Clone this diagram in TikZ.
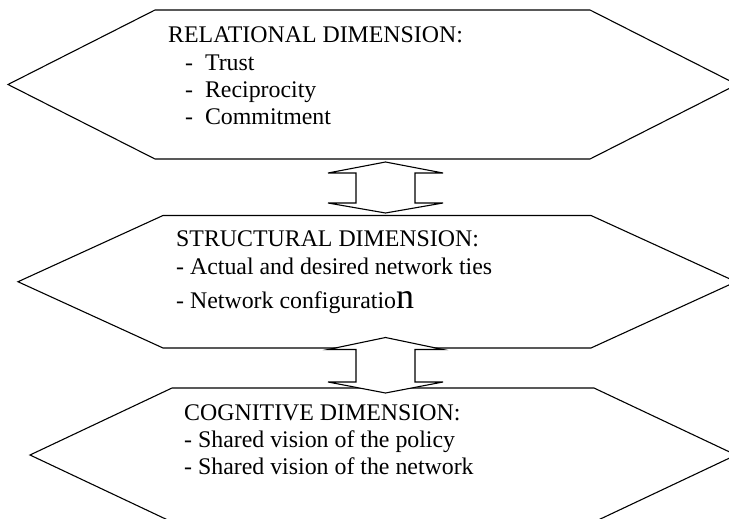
\documentclass[tikz,border=0pt]{standalone}
\usepackage{fontspec}
\setmainfont{Liberation Serif}
\usetikzlibrary{positioning, calc}

\newcommand{\dimfont}{\fontsize{23.85bp}{27.4bp}\selectfont}
\newcommand{\bign}{{\fontsize{36bp}{36bp}\selectfont n}}

\begin{document}
\begin{tikzpicture}[x=1bp, y=-1bp,
    every node/.style={inner sep=0pt, anchor=base west, font=\dimfont},
    entry/.style={anchor=base west},
    hexa/.style={draw, line width=1.1pt, line join=miter},
    dblarrow/.style={draw, fill=white, line width=1.1pt, line join=miter}]

  \useasboundingbox (0,0) rectangle (729,519);

  % Hexagons
  \coordinate (rel-w) at (8,84.5);
  \coordinate (rel-e) at (737,84.5);
  \draw[hexa] (rel-w) -- (155,10) -- (590,10) -- (rel-e) -- (590,159) -- (155,159) -- cycle;

  \coordinate (str-w) at (18,281.75);
  \coordinate (str-e) at (736,281.75);
  \draw[hexa] (str-w) -- (163,215.5) -- (591,215.5) -- (str-e) -- (591,348) -- (163,348) -- cycle;

  \coordinate (cog-w) at (30,455);
  \coordinate (cog-e) at (736,455);
  \draw[hexa] (cog-w) -- (172,388) -- (594,388) -- (cog-e) -- (594,522) -- (172,522) -- cycle;

  % Double arrows between the dimensions
  \coordinate (up1) at (385.5,162);
  \coordinate (dn1) at (385.5,213);
  \draw[dblarrow] (up1) -- ++(57.5,11) -- ++(-28,0) -- ++(0,30) -- ++(28,0) -- (dn1)
    -- ++(-57.5,-10) -- ++(28,0) -- ++(0,-30) -- ++(-28,0) -- cycle;

  \coordinate (up2) at (385.5,337.5);
  \coordinate (dn2) at (385.5,393);
  \draw[dblarrow] (up2) -- ++(57.5,12) -- ++(-28,0) -- ++(0,32.5) -- ++(28,0) -- (dn2)
    -- ++(-57.5,-11) -- ++(28,0) -- ++(0,-32.5) -- ++(-28,0) -- cycle;

  % Relational
  \node (relt) at (168,43) {RELATIONAL DIMENSION:};
  \node (rel1) [below=27.3bp of relt.base west, entry, xshift=17bp] {-\hspace{0.5em}Trust};
  \node (rel2) [below=27.3bp of rel1.base west, entry] {-\hspace{0.5em}Reciprocity};
  \node (rel3) [below=27.3bp of rel2.base west, entry] {-\hspace{0.5em}Commitment};

  % Structural
  \node (strt) at (176,247) {STRUCTURAL DIMENSION:};
  \node (str1) [below=27bp of strt.base west, entry] {- Actual and desired network ties};
  \node (str2) [below=34bp of str1.base west, entry] {- Network configuratio\bign};

  % Cognitive
  \node (cogt) at (184,420) {COGNITIVE DIMENSION:};
  \node (cog1) [below=27bp of cogt.base west, entry] {- Shared vision of the policy};
  \node (cog2) [below=27bp of cog1.base west, entry] {- Shared vision of the network};

\end{tikzpicture}
\end{document}
